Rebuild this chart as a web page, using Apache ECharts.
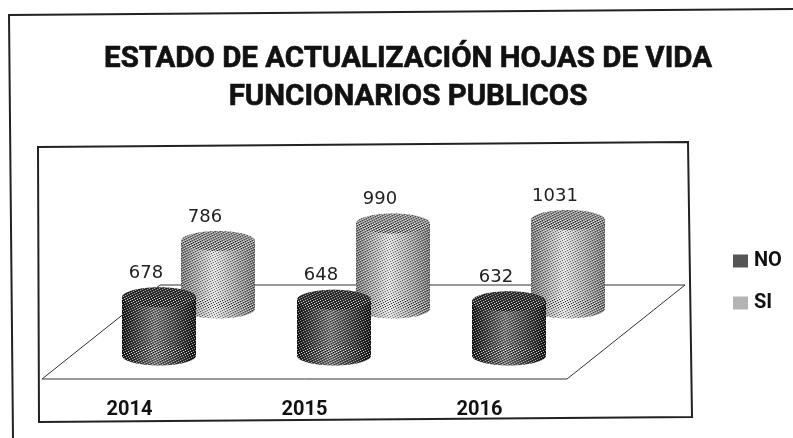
<!DOCTYPE html>
<html>
<head>
<meta charset="utf-8">
<title>Estado de actualización</title>
<style>
html,body{margin:0;padding:0;background:#fff;}
#main{width:793px;height:438px;}
</style>
<script src="https://cdn.jsdelivr.net/npm/echarts@6/dist/echarts.min.js"></script>
</head>
<body>
<div id="main"></div>
<script>
var categories = ['2014', '2015', '2016'];
var noValues = [678, 648, 632];
var siValues = [786, 990, 1031];
var legendNames = ['NO', 'SI'];
var chartTitle = 'ESTADO DE ACTUALIZACIÓN HOJAS DE VIDA\nFUNCIONARIOS PUBLICOS';

// profundidad del piso en pixeles
var depthX = 118;
var depthY = 94;

var noColors = ['#141414', '#787878', '#141414', '#333333'];
var siColors = ['#787878', '#e2e2e2', '#747474', '#8f8f8f'];

// trama fija para imitar el punteado del escaneo
function stipple() {
	var c = document.createElement('canvas');
	c.width = 5;
	c.height = 5;
	var ctx = c.getContext('2d');
	var white = [[0, 0], [3, 1], [1, 2], [4, 3], [2, 4]];
	var dark = [[2, 0], [0, 1], [3, 2], [1, 3], [4, 4]];
	ctx.fillStyle = 'rgba(255,255,255,0.55)';
	white.forEach(function (p) { ctx.fillRect(p[0], p[1], 1, 1); });
	ctx.fillStyle = 'rgba(0,0,0,0.5)';
	dark.forEach(function (p) { ctx.fillRect(p[0], p[1], 1, 1); });
	return {image: c, repeat: 'repeat'};
}
var texture = stipple();

function cylinder(colors, depth) {
	return function (params, api) {
		var base = api.coord([api.value(0), 0]);
		var top = api.coord([api.value(0), api.value(1)]);
		var cx = base[0] + depthX * depth;
		var by = base[1] - depthY * depth;
		var ty = top[1] - depthY * depth;
		var rx = 37;
		var ry = 10;
		var grad = {
			type: 'linear', x: 0, y: 0, x2: 1, y2: 0,
			colorStops: [
				{offset: 0, color: colors[0]},
				{offset: 0.45, color: colors[1]},
				{offset: 1, color: colors[2]}
			]
		};
		return {
			type: 'group',
			children: [
				{type: 'ellipse', shape: {cx: cx, cy: by, rx: rx, ry: ry}, style: {fill: grad}},
				{type: 'rect', shape: {x: cx - rx, y: ty, width: rx * 2, height: by - ty}, style: {fill: grad}},
				{type: 'ellipse', shape: {cx: cx, cy: ty, rx: rx, ry: ry}, style: {fill: colors[3]}},
				{type: 'ellipse', shape: {cx: cx, cy: by, rx: rx, ry: ry}, style: {fill: texture}},
				{type: 'rect', shape: {x: cx - rx, y: ty, width: rx * 2, height: by - ty}, style: {fill: texture}},
				{type: 'ellipse', shape: {cx: cx, cy: ty, rx: rx, ry: ry}, style: {fill: texture}},
				{
					type: 'text',
					x: cx - 13,
					y: ty - 24,
					style: {
						text: String(api.value(1)),
						fill: '#222',
						font: '18px "DejaVu Sans"',
						align: 'center',
						verticalAlign: 'middle'
					}
				}
			]
		};
	};
}

function floor(params, api) {
	var first = api.coord([0, 0]);
	var band = api.size([1, 0])[0];
	var x0 = first[0] - band / 2;
	var x1 = x0 + band * categories.length;
	var y0 = first[1];
	return {
		type: 'polygon',
		shape: {points: [[x0, y0], [x1, y0], [x1 + depthX, y0 - depthY], [x0 + depthX, y0 - depthY]]},
		style: {fill: '#fff', stroke: '#333', lineWidth: 1}
	};
}

function toData(values) {
	return values.map(function (v, i) { return [i, v]; });
}

var myChart = echarts.init(document.getElementById('main'));
var option = {
	animation: false,
	backgroundColor: '#fff',
	title: {
		text: chartTitle,
		left: 403,
		top: 36,
		textAlign: 'center',
		textStyle: {
			fontFamily: 'Roboto',
			fontWeight: 'bold',
			fontSize: 29.5,
			lineHeight: 38,
			color: '#111',
			textBorderColor: '#111',
			textBorderWidth: 0.6
		}
	},
	legend: {
		data: legendNames,
		orient: 'vertical',
		left: 728,
		top: 246,
		itemWidth: 15,
		itemHeight: 13,
		itemGap: 22,
		icon: 'rect',
		textStyle: {fontFamily: 'Roboto', fontWeight: 'bold', fontSize: 20, color: '#111', padding: [0, 0, 0, 1]}
	},
	grid: {left: 42, top: 147, width: 525, bottom: 59},
	xAxis: {
		type: 'category',
		data: categories,
		axisLine: {show: false},
		axisTick: {show: false},
		axisLabel: {margin: 21, fontFamily: 'Roboto', fontWeight: 'bold', fontSize: 20, color: '#111'}
	},
	yAxis: {type: 'value', min: 0, max: 2700, show: false},
	graphic: [
		{type: 'polyline', shape: {points: [[13, 438], [9, 15], [793, 9]]}, silent: true, z: -1,
			style: {fill: 'none', stroke: '#222', lineWidth: 2}},
		{type: 'polygon', shape: {points: [[38, 147], [688, 142], [692, 417], [39, 422]]}, silent: true, z: -1,
			style: {fill: 'none', stroke: '#222', lineWidth: 2}}
	],
	series: [
		{name: 'piso', type: 'custom', renderItem: floor, data: [[0, 0]], z: 1, silent: true},
		{name: 'SI', type: 'custom', renderItem: cylinder(siColors, 0.75), data: toData(siValues), z: 2,
			itemStyle: {color: '#b4b4b4'}},
		{name: 'NO', type: 'custom', renderItem: cylinder(noColors, 0.25), data: toData(noValues), z: 3,
			itemStyle: {color: '#555'}}
	]
};
myChart.setOption(option);
</script>
</body>
</html>
